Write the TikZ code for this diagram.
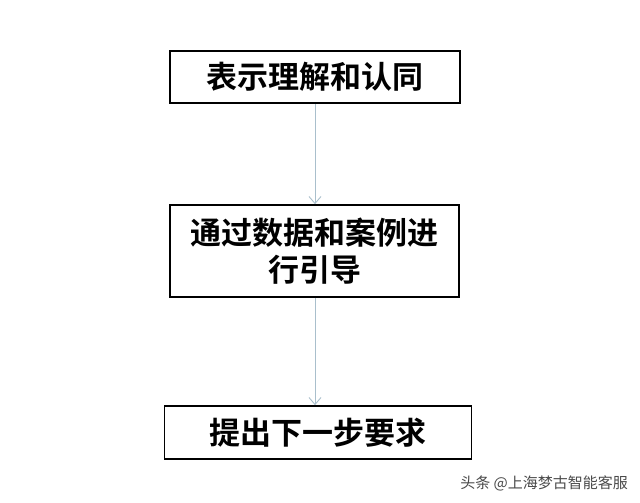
\documentclass[tikz,border=0pt]{standalone}
\usepackage{fontspec}
\newfontfamily\cjk{Noto Sans CJK SC}
\newfontfamily\cjkbold{Noto Sans CJK SC Bold}
\usetikzlibrary{arrows.meta}
\definecolor{arrowc}{HTML}{A9BFCC}
\definecolor{wmark}{HTML}{4A4A4A}
\tikzset{
  stepbox/.style={draw=black, line width=1.6pt, fill=white, inner sep=0pt, font=\cjkbold\fontsize{31}{37}\selectfont, align=center},
  flow/.style={draw=arrowc, line width=0.9pt, -{Straight Barb[length=7pt, width=12pt, line width=0.9pt]}},
}
\begin{document}
\begin{tikzpicture}[x=1pt,y=-1pt]
\useasboundingbox[fill=white] (0,0) rectangle (640,503);
\node[stepbox, minimum width=290pt, minimum height=52pt] (a) at (315,77) {表示理解和认同};
\node[stepbox, minimum width=289pt, minimum height=92pt] (b) at (314.5,251) {通过数据和案例进\\行引导};
\node[stepbox, minimum width=307pt, minimum height=53pt] (c) at (318,432.5) {提出下一步要求};
\draw[flow] (a.south -| 315,0) -- (b.north -| 315,0);
\draw[flow] (b.south -| 315,0) -- (c.north -| 315,0);
\node[anchor=east, text=wmark, font=\cjk\fontsize{15}{15}\selectfont, inner sep=0pt] (w) at (628,483) {头条 @上海梦古智能客服};
\end{tikzpicture}
\end{document}
